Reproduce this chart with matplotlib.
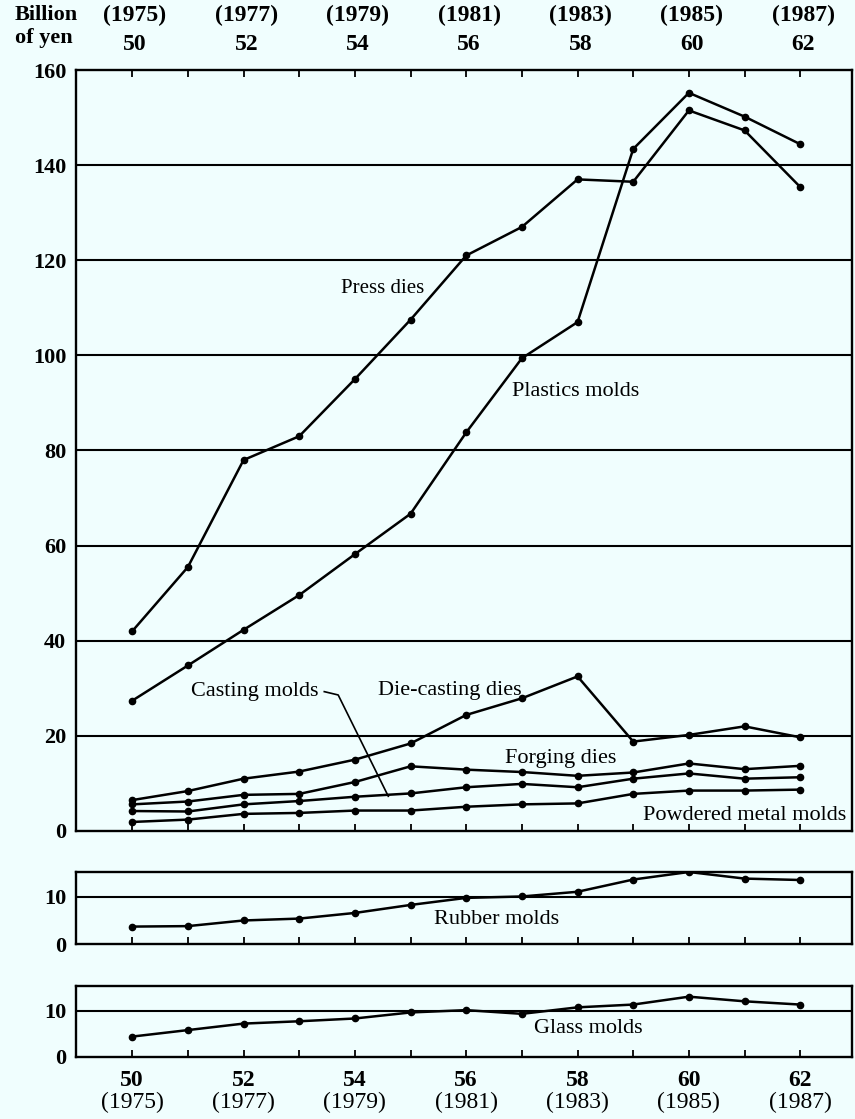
import matplotlib
matplotlib.use("Agg")
import matplotlib.pyplot as plt
from matplotlib.transforms import blended_transform_factory

years = list(range(1975, 1988))
press_dies = [42, 55.5, 78, 83, 95, 107.5, 121, 127, 137, 136.5, 151.5, 147.3, 135.4]
plastics_molds = [27.4, 34.8, 42.3, 49.6, 58.2, 66.7, 83.8, 99.4, 107, 143.4, 155.2, 150.2, 144.4]
die_casting = [6.5, 8.4, 11.0, 12.5, 15.0, 18.4, 24.4, 27.9, 32.5, 18.8, 20.2, 22.0, 19.7]
forging = [5.6, 6.2, 7.6, 7.8, 10.3, 13.6, 12.9, 12.4, 11.6, 12.3, 14.2, 13.0, 13.7]
casting = [4.2, 4.1, 5.6, 6.3, 7.2, 7.9, 9.2, 9.9, 9.2, 11.0, 12.1, 11.0, 11.3]
powdered = [1.9, 2.4, 3.6, 3.8, 4.3, 4.3, 5.1, 5.6, 5.8, 7.8, 8.5, 8.5, 8.7]
rubber = [3.7, 3.8, 5.0, 5.4, 6.6, 8.3, 9.8, 10.1, 11.1, 13.7, 15.3, 13.9, 13.6]
glass = [4.4, 5.8, 7.2, 7.7, 8.3, 9.6, 10.1, 9.3, 10.7, 11.3, 13.0, 12.0, 11.3]

label_years = [1975, 1977, 1979, 1981, 1983, 1985, 1987]
showa = ["50", "52", "54", "56", "58", "60", "62"]
main_yticks = [0, 20, 40, 60, 80, 100, 120, 140, 160]
sub_yticks = [0, 10]

BG = "#f0fefe"
FONT = "Liberation Serif"
plt.rcParams["font.family"] = [FONT, "DejaVu Serif"]

W, H = 855, 1119
fig = plt.figure(figsize=(W / 100, H / 100), dpi=100, facecolor=BG)

def ax_rect(top_px, bot_px, left_px=76, right_px=852):
    return [left_px / W, 1 - bot_px / H, (right_px - left_px) / W, (bot_px - top_px) / H]

ax = fig.add_axes(ax_rect(70, 831))
axr = fig.add_axes(ax_rect(872, 944))
axg = fig.add_axes(ax_rect(986, 1057))

XMIN, XMAX = 1973.99, 1987.93
line_kw = dict(color="black", lw=1.8, marker="o", markersize=4.5,
               markerfacecolor="black", markeredgecolor="black")

for a in (ax, axr, axg):
    a.set_facecolor(BG)
    a.set_xlim(XMIN, XMAX)
    for s in a.spines.values():
        s.set_linewidth(1.7)
        s.set_color("black")
    a.set_xticks(years)
    a.set_xticklabels([])
    a.tick_params(axis="x", direction="in", length=5, width=1.3, labelbottom=False)
    a.tick_params(axis="y", length=0, pad=7)

# main panel
ax.set_ylim(0, 160)
ax.set_yticks(main_yticks)
ax.set_yticklabels([str(v) for v in main_yticks], fontweight="bold", fontsize=16)
for v in main_yticks[1:-1]:
    ax.axhline(v, color="black", lw=1.5, zorder=1)
ax.tick_params(axis="x", top=True, bottom=True)

for series in (press_dies, plastics_molds, die_casting, forging, casting, powdered):
    ax.plot(years, series, zorder=3, **line_kw)

txt_kw = dict(fontsize=16, color="black")
ax.text(1979.5, 114, "Press dies", ha="center", va="center", fontsize=15)
ax.text(1982.97, 92.3, "Plastics molds", ha="center", va="center", **txt_kw)
ax.text(1977.2, 29.3, "Casting molds", ha="center", va="center", **txt_kw)
ax.plot([1978.45, 1978.7, 1979.6], [29.3, 28.6, 7.3], color="black", lw=1.2, zorder=3)
ax.text(1980.7, 29.6, "Die-casting dies", ha="center", va="center", **txt_kw)
ax.text(1982.7, 15.3, "Forging dies", ha="center", va="center", **txt_kw)
ax.text(1986.0, 3.3, "Powdered metal molds", ha="center", va="center", **txt_kw)

# top year labels
ttop = blended_transform_factory(ax.transData, fig.transFigure)
for y, s in zip(label_years, showa):
    ax.text(y + 0.05, 1 - 15 / H, f"({y})", transform=ttop, ha="center", va="center",
            fontsize=17, fontweight="bold")
    ax.text(y + 0.05, 1 - 45 / H, s, transform=ttop, ha="center", va="center",
            fontsize=17, fontweight="bold")

fig.text(15 / W, 1 - 15 / H, "Billion", fontsize=16, fontweight="bold", ha="left", va="center")
fig.text(15 / W, 1 - 38 / H, "of yen", fontsize=16, fontweight="bold", ha="left", va="center")

# rubber and glass panels
for a, series, name, lx, ly in ((axr, rubber, "Rubber molds", 1981.55, 5.3),
                                 (axg, glass, "Glass molds", 1983.2, 6.2)):
    a.set_ylim(0, 15.3)
    a.set_yticks(sub_yticks)
    a.set_yticklabels([str(v) for v in sub_yticks], fontweight="bold", fontsize=16)
    a.axhline(10, color="black", lw=1.5, zorder=1)
    a.plot(years, series, zorder=3, **line_kw)
    a.text(lx, ly, name, ha="center", va="center", **txt_kw)

# bottom year labels
tbot = blended_transform_factory(axg.transData, fig.transFigure)
for y, s in zip(label_years, showa):
    axg.text(y, 1 - 1081 / H, s, transform=tbot, ha="center", va="center",
             fontsize=17, fontweight="bold", clip_on=False)
    axg.text(y, 1 - 1102 / H, f"({y})", transform=tbot, ha="center", va="center",
             fontsize=17, clip_on=False)

fig.savefig("out.png", dpi=100, facecolor=BG)
